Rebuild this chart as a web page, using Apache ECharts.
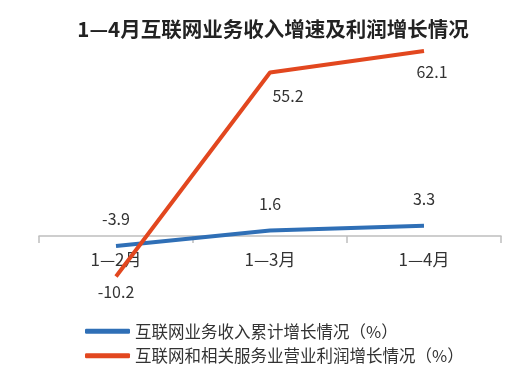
<!DOCTYPE html>
<html><head><meta charset="utf-8">
<script src="https://cdn.jsdelivr.net/npm/echarts@6/dist/echarts.min.js"></script>
<style>html,body{margin:0;padding:0;background:#fff}#c{width:523px;height:374px}</style>
</head><body><div id="c"></div>
<script>
const categories = ['1—2月', '1—3月', '1—4月'];
const revenueGrowth = [-3.9, 1.6, 3.3];
const profitGrowth = [-10.2, 55.2, 62.1];
const seriesNames = ['互联网业务收入累计增长情况（%）', '互联网和相关服务业营业利润增长情况（%）'];

// label placement styles (kept separate from data)
const profitLabelStyle = [
  { distance: 7, offset: [0, 0] },
  { distance: 15, offset: [18, 0] },
  { distance: 13, offset: [8, 0] }
];

const font = '"Noto Sans CJK SC", "Noto Sans", sans-serif';
const chart = echarts.init(document.getElementById('c'));
chart.setOption({
  backgroundColor: '#fff',
  animation: false,
  title: {
    text: '1—4月互联网业务收入增速及利润增长情况',
    left: 268, textAlign: 'center', top: 14,
    textStyle: { fontFamily: font, fontSize: 20.5, fontWeight: 'bold', color: '#222' }
  },
  legend: {
    orient: 'vertical', left: 80, top: 318, itemGap: 8,
    itemWidth: 45, itemHeight: 5, icon: 'roundRect',
    textStyle: { fontFamily: font, fontSize: 16.5, color: '#333' },
    data: seriesNames
  },
  grid: { left: 39, right: 22, top: 40, bottom: 138 },
  xAxis: {
    type: 'category', data: categories, boundaryGap: true, position: 'bottom',
    axisLine: { onZero: false, lineStyle: { color: '#bfbfbf', width: 1.5 } },
    axisTick: { show: true, length: 7, lineStyle: { color: '#bfbfbf', width: 1.5 } },
    axisLabel: { fontFamily: font, fontSize: 17, color: '#333', margin: 15 }
  },
  yAxis: [
    { type: 'value', min: 2.79, max: 65.63, show: false, splitLine: { show: false } },
    { type: 'value', min: -0.355, max: 69.15, show: false, splitLine: { show: false } }
  ],
  series: [
    {
      name: seriesNames[0], type: 'line', yAxisIndex: 1, data: revenueGrowth, clip: false,
      symbol: 'circle', symbolSize: 0.1, lineStyle: { color: '#2f6fb6', width: 4 }, itemStyle: { color: '#2f6fb6' },
      label: { show: true, position: 'top', distance: 19, fontFamily: font, fontSize: 16, color: '#333' }, z: 2
    },
    {
      name: seriesNames[1], type: 'line', yAxisIndex: 0, clip: false,
      data: profitGrowth.map((v, i) => ({ value: v, label: profitLabelStyle[i] })),
      symbol: 'circle', symbolSize: 0.1, lineStyle: { color: '#e2471f', width: 4 }, itemStyle: { color: '#e2471f' },
      label: { show: true, position: 'bottom', fontFamily: font, fontSize: 16, color: '#333' }, z: 3
    }
  ]
});
</script></body></html>
